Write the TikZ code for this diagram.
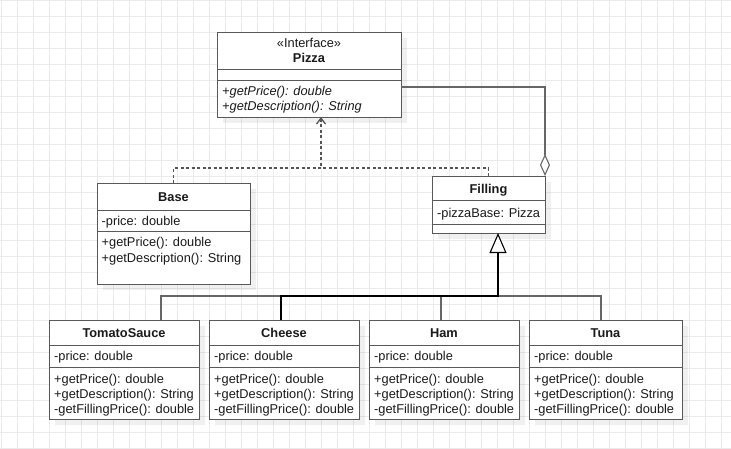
\documentclass[tikz,border=0pt]{standalone}
\usepackage{fontspec}
\setmainfont{Liberation Sans}
\usetikzlibrary{arrows.meta,shadows,calc}
\definecolor{gridc}{HTML}{EBEBEB}
\definecolor{boxc}{HTML}{595959}
\definecolor{edgec}{HTML}{666666}
\definecolor{dashc}{HTML}{555555}
\definecolor{txt}{HTML}{1A1A1A}
\tikzset{
  classbox/.style={draw=boxc, fill=white, line width=1pt, inner sep=0pt, outer sep=0pt, anchor=north west,
    general shadow={shadow xshift=6pt, shadow yshift=-6pt, fill=black, opacity=0.06}},
  member/.style={anchor=west, inner sep=0pt, text height=9.1pt, text depth=0pt,
    font=\fontsize{12.8}{15}\selectfont, text=txt},
  ctitle/.style={anchor=center, inner sep=0pt, text height=9.1pt, text depth=0pt,
    font=\fontsize{12.8}{15}\selectfont\bfseries, text=txt},
  stereo/.style={anchor=center, inner sep=0pt, text height=9.1pt, text depth=0pt,
    font=\fontsize{12.8}{15}\selectfont, text=txt},
  divider/.style={draw=boxc, line width=1pt},
  edge/.style={draw=edgec, line width=1.1pt},
  selectededge/.style={draw=black, line width=2pt},
  realize/.style={draw=dashc, line width=1.3pt, dash pattern=on 3pt off 2.5pt},
}
\begin{document}
\begin{tikzpicture}[x=1pt,y=-1pt]
\useasboundingbox (0,0) rectangle (731,448);
\fill[white] (0,0) rectangle (731,448);
\foreach \gx in {1,17,...,721} \draw[gridc, line width=1pt] (\gx,0) -- (\gx,448);
\foreach \gy in {0,16,...,448} \draw[gridc, line width=1pt] (0,\gy) -- (731,\gy);

% Pizza
\node[classbox, minimum width=184pt, minimum height=85pt] (pizza) at (217,32) {};
\draw[divider] (pizza.west |- 0,69.3) -- (pizza.east |- 0,69.3);
\draw[divider] (pizza.west |- 0,80.7) -- (pizza.east |- 0,80.7);
\node[stereo] (pizzast) at (309,42.5) {«Interface»};
\node[ctitle] (pizzat) at (309,58) {Pizza};
\node[member] (pizzam1) at (222,91) {\itshape +getPrice(): double};
\node[member] (pizzam2) at (222,105.5) {\itshape +getDescription(): String};

% Base
\node[classbox, minimum width=153pt, minimum height=101pt] (base) at (97,183) {};
\draw[divider] (base.west |- 0,210) -- (base.east |- 0,210);
\draw[divider] (base.west |- 0,231.7) -- (base.east |- 0,231.7);
\node[ctitle] (baset) at (173.5,196.5) {Base};
\node[member] (basea1) at (101.5,220.5) {-price: double};
\node[member] (basem1) at (101.5,242) {+getPrice(): double};
\node[member] (basem2) at (101.5,257.5) {+getDescription(): String};

% Filling
\node[classbox, minimum width=113pt, minimum height=57pt] (filling) at (432,176) {};
\draw[divider] (filling.west |- 0,200.7) -- (filling.east |- 0,200.7);
\draw[divider] (filling.west |- 0,224.3) -- (filling.east |- 0,224.3);
\node[ctitle] (fillingt) at (488.5,188.5) {Filling};
\node[member] (fillinga1) at (437,212.5) {-pizzaBase: Pizza};

% Children
\foreach \nm/\lx/\w/\ttl in {tomato/49/150/TomatoSauce, cheese/209/150/Cheese, ham/369/150/Ham, tuna/529/153/Tuna}{
  \node[classbox, minimum width=\w pt, minimum height=99pt] (\nm) at (\lx,320) {};
  \draw[divider] (\nm.west |- 0,345) -- (\nm.east |- 0,345);
  \draw[divider] (\nm.west |- 0,367.7) -- (\nm.east |- 0,367.7);
  \node[ctitle] (\nm t) at ($(\nm.north)+(0,12.7)$) {\ttl};
  \node[member] (\nm a1) at ($(\nm.north west)+(5,36.3)$) {-price: double};
  \node[member] (\nm m1) at ($(\nm.north west)+(5,59)$) {+getPrice(): double};
  \node[member] (\nm m2) at ($(\nm.north west)+(5,74)$) {+getDescription(): String};
  \node[member] (\nm m3) at ($(\nm.north west)+(5,89)$) {-getFillingPrice(): double};
}

% Realization (dashed)
\coordinate (rj) at (321,168);
\coordinate (pzin) at (pizza.south -| 321,0);
\draw[realize, -{Straight Barb[length=6pt,width=9pt,line width=1.3pt]}] (base.north) |- (rj) -- (pzin);
\draw[realize] (filling.north) |- (rj);

% Aggregation
\coordinate (pzout) at (pizza.east |- 0,87);
\draw[edge, {Diamond[open,fill=white,length=22pt,width=10pt,line width=1.1pt]}-] (filling.north east) |- (pzout);

% Generalization
\coordinate (gj) at (498,296);
\coordinate (fb) at (filling.south -| 498,0);
\draw[edge] (tomato.north -| 161,0) |- (gj);
\draw[edge] (ham.north -| 441,0) |- (gj);
\draw[edge] (tuna.north -| 601,0) |- (gj);
\draw[selectededge, -{Triangle[open,fill=white,length=20pt,width=17pt,line width=1.1pt]}] (cheese.north -| 281,0) |- (gj) -- (fb);
\end{tikzpicture}
\end{document}
